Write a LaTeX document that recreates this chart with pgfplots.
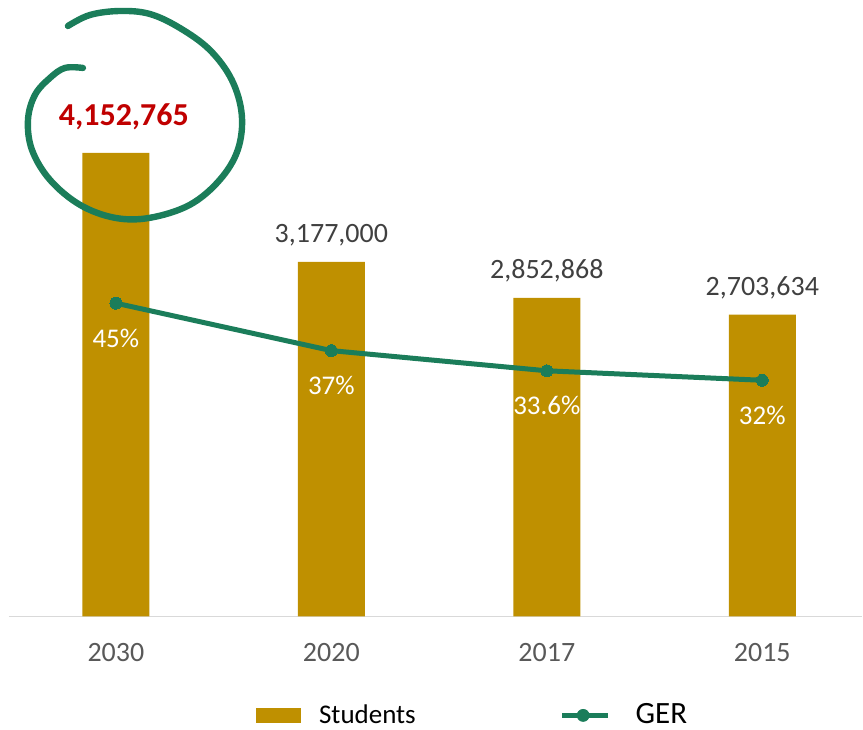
\documentclass[border=0pt]{standalone}
\usepackage{pgfplots}
\pgfplotsset{compat=1.18}
\usepackage{pgfplotstable}
\usepackage{fontspec}
\setmainfont{Carlito}
\definecolor{gold}{HTML}{BF9000}
\definecolor{gergreen}{HTML}{1B7D5A}
\definecolor{lbl}{HTML}{404040}
\definecolor{tickc}{HTML}{595959}
\definecolor{redlbl}{HTML}{C00000}
\definecolor{axgray}{HTML}{D9D9D9}

\pgfplotstableread{
x students label
0 4152765 {}
1 3177000 3,177,000
2 2852868 2,852,868
3 2703634 2,703,634
}\studentsdata
\pgfplotstableread{
x ger label
0 45 45\%
1 37 37\%
2 33.6 33.6\%
3 32 32\%
}\gerdata

\begin{document}
\begin{tikzpicture}
\path (0,0) rectangle (431.5pt,365pt);
\begin{axis}[
  at={(4.5pt,56.5pt)}, anchor=south west, scale only axis,
  width=427pt, height=232pt,
  xmin=-0.496, xmax=3.464, ymin=0, ymax=4152765,
  axis x line=bottom, axis y line=none,
  axis line style={-},
  x axis line style={axgray, line width=0.75pt},
  xtick={0,1,2,3}, xticklabels={2030,2020,2017,2015},
  major tick length=0pt, xtick style={draw=none},
  xticklabel style={font=\fontsize{14}{16}\selectfont, text=tickc, anchor=center, yshift=-18pt},
  ytick=\empty,
  clip=false,
  legend style={at={(0.2892,-0.2134)}, anchor=west, draw=none, fill=none,
    inner sep=0pt, legend columns=-1,
    nodes={inner sep=0pt, text=black},
    /tikz/every even column/.style={column sep=0pt},
    /tikz/every odd column/.style={column sep=0pt}},
]
\addplot[ybar, bar width=33.5pt, bar shift=0pt, fill=gold, draw=none,
  point meta=explicit symbolic, nodes near coords,
  nodes near coords style={text=lbl, font=\fontsize{14}{16}\selectfont, anchor=center, yshift=13.5pt},
  legend image code/.code={\fill[gold] (0pt,-3.75pt) rectangle (22.5pt,3.75pt);}]
  table[x=x, y=students, meta=label] {\studentsdata};
\addlegendentry{\fontsize{13.5}{15}\selectfont\hspace{9pt}Students\makebox[72pt]{}}
\addlegendimage{legend image code/.code={\draw[gergreen, line width=2.5pt] (0pt,0pt) -- (23pt,0pt); \fill[gergreen] (10.5pt,0pt) circle (3pt);}}
\addlegendentry{\fontsize{15.5}{17}\selectfont\hspace{12.5pt}GER}
\node[text=redlbl, font=\fontsize{16}{18}\selectfont\bfseries, anchor=center, xshift=4pt, yshift=18pt] at (axis cs:0,4152765) {4,152,765};
\end{axis}
\begin{axis}[
  at={(4.5pt,56.5pt)}, anchor=south west, scale only axis,
  width=427pt, height=232pt,
  xmin=-0.496, xmax=3.464, ymin=-7.83, ymax=70.35,
  hide axis, clip=false,
]
\addplot[gergreen, line width=2.5pt, mark=*, mark size=3pt,
  mark options={fill=gergreen, draw=gergreen, line width=0pt},
  point meta=explicit symbolic, nodes near coords,
  nodes near coords style={text=white, font=\fontsize{13.5}{15}\selectfont, anchor=center, yshift=-17.5pt}]
  table[x=x, y=ger, meta=label] {\gerdata};
\end{axis}
\begin{scope}[x=0.5pt, y=-0.5pt, yshift=365pt]
\draw[gergreen, line width=3.2pt, line cap=round]
  plot[smooth, tension=0.6] coordinates {(68,26) (90,15) (120,11) (150,14) (180,28) (210,50) (232,80) (242,115) (238,150) (220,180) (190,205) (150,218) (115,218) (80,205) (50,180) (32,150) (28,120) (35,95) (50,78) (65,68) (83,68)};
\end{scope}
\end{tikzpicture}
\end{document}
